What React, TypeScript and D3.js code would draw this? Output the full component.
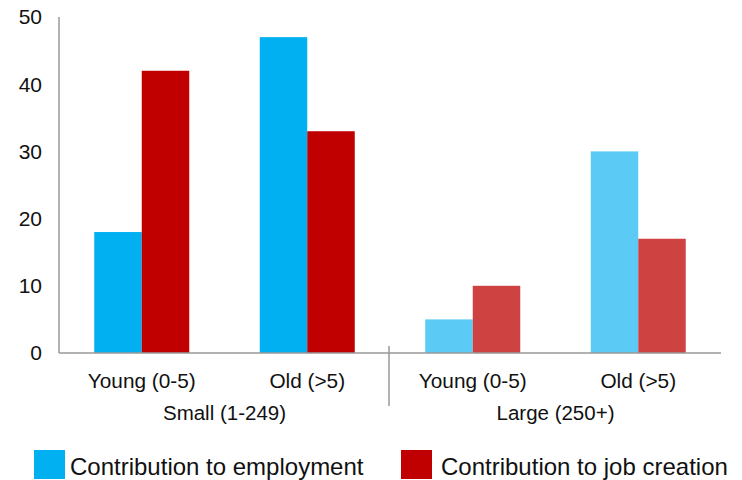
import React from "react";
import * as d3 from "d3";

const ageClasses = ["Young (0-5)", "Old (>5)", "Young (0-5)", "Old (>5)"];
const sizeClasses = ["Small (1-249)", "Large (250+)"];
const employment = [18, 47, 5, 30];
const jobCreation = [42, 33, 10, 17];
const yTicks = [0, 10, 20, 30, 40, 50];
const seriesNames = ["Contribution to employment", "Contribution to job creation"];

const W = 742;
const H = 480;
const left = 59;
const right = 721;
const top = 17;
const bottom = 353;
const FONT = "'Liberation Sans', Arial, sans-serif";

// small firms in saturated colours, large firms in lighter tints
const colEmp = ["#00B0F0", "#00B0F0", "#5BCBF5", "#5BCBF5"];
const colJob = ["#C00000", "#C00000", "#CF4242", "#CF4242"];

export default function App() {
  const keys = ageClasses.map((_, i) => String(i));
  const x = d3
    .scaleBand<string>()
    .domain(keys)
    .range([left, right])
    .paddingInner(0.426)
    .paddingOuter(0.213);
  const y = d3.scaleLinear().domain([0, 50]).range([bottom, top]);
  const bw = x.bandwidth() / 2;
  const step = x.step();

  return (
    <svg
      width={W}
      height={H}
      style={{ position: "absolute", left: 0, top: 0, background: "#fff" }}
      fontFamily={FONT}
    >
      {/* bars */}
      {keys.map((k, i) => (
        <g key={k}>
          <rect
            x={x(k)!}
            y={y(employment[i])}
            width={bw}
            height={bottom - y(employment[i])}
            fill={colEmp[i]}
          />
          <rect
            x={x(k)! + bw}
            y={y(jobCreation[i])}
            width={bw}
            height={bottom - y(jobCreation[i])}
            fill={colJob[i]}
          />
        </g>
      ))}

      {/* axes */}
      <line x1={left} x2={left} y1={top} y2={bottom} stroke="#999" strokeWidth={1.5} />
      <line x1={left} x2={right} y1={bottom} y2={bottom} stroke="#999" strokeWidth={1.5} />
      <line
        x1={left + 2 * step - 1}
        x2={left + 2 * step - 1}
        y1={bottom - 7}
        y2={406}
        stroke="#999"
        strokeWidth={1.5}
      />

      {/* y tick labels */}
      {yTicks.map((t) => (
        <text
          key={t}
          x={42}
          y={y(t)}
          dy="0.35em"
          textAnchor="end"
          fontSize={21}
          fill="#111"
        >
          {t}
        </text>
      ))}

      {/* category labels */}
      {keys.map((k, i) => (
        <text
          key={k}
          x={x(k)! + x.bandwidth() / 2}
          y={388}
          textAnchor="middle"
          fontSize={20.8}
          fill="#111"
        >
          {ageClasses[i]}
        </text>
      ))}
      {sizeClasses.map((s, i) => (
        <text
          key={s}
          x={left + step * (2 * i + 1)}
          y={420}
          textAnchor="middle"
          fontSize={20.5}
          fill="#111"
        >
          {s}
        </text>
      ))}

      {/* legend */}
      <rect x={34} y={450} width={31} height={29} fill="#00B0F0" />
      <text x={70} y={475} fontSize={24} fill="#111">
        {seriesNames[0]}
      </text>
      <rect x={401} y={450} width={31} height={29} fill="#C00000" />
      <text x={441} y={475} fontSize={24} fill="#111">
        {seriesNames[1]}
      </text>
    </svg>
  );
}
